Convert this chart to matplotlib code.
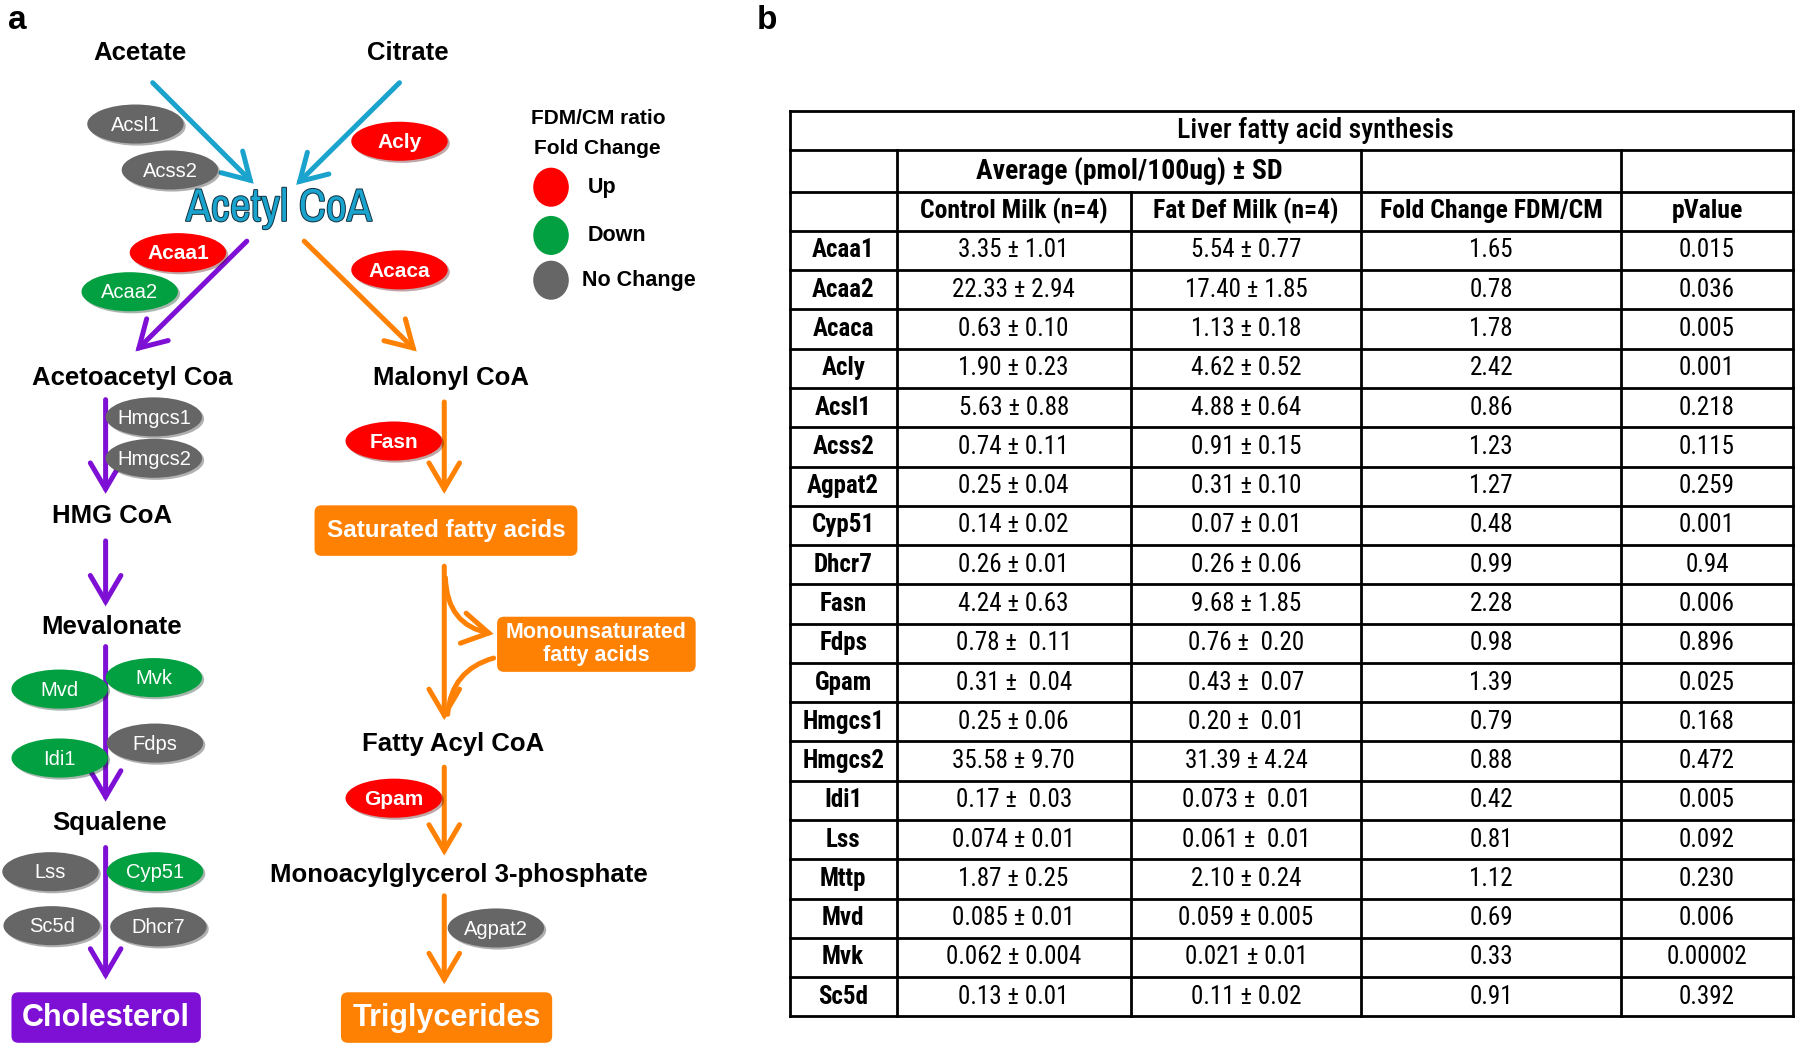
import matplotlib
matplotlib.use('Agg')
import matplotlib.pyplot as plt
import matplotlib.patheffects as pe
from matplotlib.patches import Ellipse, FancyBboxPatch, FancyArrowPatch

plt.rcParams['font.family'] = ['Liberation Sans', 'DejaVu Sans']
NARROW = ['Roboto Condensed', 'Liberation Sans', 'DejaVu Sans']
ACETYL_FONT = ['Archivo Narrow', 'Roboto Condensed', 'DejaVu Sans']

# ---- table data (panel b) ----
genes = ['Acaa1', 'Acaa2', 'Acaca', 'Acly', 'Acsl1', 'Acss2', 'Agpat2', 'Cyp51', 'Dhcr7', 'Fasn',
         'Fdps', 'Gpam', 'Hmgcs1', 'Hmgcs2', 'Idi1', 'Lss', 'Mttp', 'Mvd', 'Mvk', 'Sc5d']
control_milk = ['3.35 ± 1.01', '22.33 ± 2.94', '0.63 ± 0.10', '1.90 ± 0.23', '5.63 ± 0.88',
                '0.74 ± 0.11', '0.25 ± 0.04', '0.14 ± 0.02', '0.26 ± 0.01', '4.24 ± 0.63',
                '0.78 ±  0.11', '0.31 ±  0.04', '0.25 ± 0.06', '35.58 ± 9.70', '0.17 ±  0.03',
                '0.074 ± 0.01', '1.87 ± 0.25', '0.085 ± 0.01', '0.062 ± 0.004', '0.13 ± 0.01']
fat_def_milk = ['5.54 ± 0.77', '17.40 ± 1.85', '1.13 ± 0.18', '4.62 ± 0.52', '4.88 ± 0.64',
                '0.91 ± 0.15', '0.31 ± 0.10', '0.07 ± 0.01', '0.26 ± 0.06', '9.68 ± 1.85',
                '0.76 ±  0.20', '0.43 ±  0.07', '0.20 ±  0.01', '31.39 ± 4.24', '0.073 ±  0.01',
                '0.061 ±  0.01', '2.10 ± 0.24', '0.059 ± 0.005', '0.021 ± 0.01', '0.11 ± 0.02']
fold_change = [1.65, 0.78, 1.78, 2.42, 0.86, 1.23, 1.27, 0.48, 0.99, 2.28,
               0.98, 1.39, 0.79, 0.88, 0.42, 0.81, 1.12, 0.69, 0.33, 0.91]
p_values = ['0.015', '0.036', '0.005', '0.001', '0.218', '0.115', '0.259', '0.001', '0.94', '0.006',
            '0.896', '0.025', '0.168', '0.472', '0.005', '0.092', '0.230', '0.006', '0.00002', '0.392']
col_headers = ['', 'Control Milk (n=4)', 'Fat Def Milk (n=4)', 'Fold Change FDM/CM', 'pValue']

# ---- pathway (panel a) ----
metabolites = ['Acetate', 'Citrate', 'Acetoacetyl Coa', 'Malonyl CoA', 'HMG CoA', 'Mevalonate',
               'Fatty Acyl CoA', 'Squalene', 'Monoacylglycerol 3-phosphate']
diagram_enzymes = ['Acsl1', 'Acss2', 'Acly', 'Acaa1', 'Acaa2', 'Acaca', 'Hmgcs1', 'Hmgcs2', 'Fasn',
                   'Mvd', 'Mvk', 'Idi1', 'Fdps', 'Lss', 'Cyp51', 'Sc5d', 'Dhcr7', 'Gpam', 'Agpat2']

# layout (canvas units, 1568 x 916)
metab_pos = {'Acetate': (122, 46), 'Citrate': (355, 46), 'Acetoacetyl Coa': (115, 329),
             'Malonyl CoA': (393, 329), 'HMG CoA': (98, 449), 'Mevalonate': (97, 546),
             'Fatty Acyl CoA': (395, 648), 'Squalene': (95, 717),
             'Monoacylglycerol 3-phosphate': (400, 762)}
enz_pos = {'Acsl1': (118, 108), 'Acss2': (148, 148), 'Acly': (348, 123), 'Acaa1': (155, 220),
           'Acaa2': (113, 254), 'Acaca': (348, 235), 'Hmgcs1': (134, 363), 'Hmgcs2': (134, 399),
           'Fasn': (343, 384), 'Mvd': (52, 600), 'Mvk': (134, 590), 'Idi1': (52, 660),
           'Fdps': (135, 647), 'Lss': (44, 759), 'Cyp51': (135, 759), 'Sc5d': (45, 806),
           'Dhcr7': (138, 807), 'Gpam': (343, 695), 'Agpat2': (432, 808)}

RED, GREEN, GRAY = '#fe0000', '#02a040', '#666666'
BLUE, PURPLE, ORANGE = '#1aa3cc', '#7e0fd4', '#ff8104'


def status_color(g):
    i = genes.index(g)
    if float(p_values[i]) < 0.05:
        return RED if fold_change[i] > 1 else GREEN
    return GRAY


fig = plt.figure(figsize=(18, 10.52), dpi=100)
ax = fig.add_axes([0, 0, 1, 1])
ax.set_xlim(0, 1568)
ax.set_ylim(916, 0)
ax.axis('off')

ax.text(15, 18, 'a', fontsize=24, fontweight='bold', ha='center', va='center')
ax.text(668, 18, 'b', fontsize=24, fontweight='bold', ha='center', va='center')


def arrow(p0, p1, color, head=True, rad=0.0):
    style = '->,head_length=0.85,head_width=0.5' if head else '-'
    a = FancyArrowPatch(p0, p1, arrowstyle=style, mutation_scale=22, lw=3.6, color=color,
                        shrinkA=0, shrinkB=0, connectionstyle=f'arc3,rad={rad}',
                        capstyle='round', joinstyle='miter')
    ax.add_patch(a)


# arrows
arrow((133, 72), (221, 160), BLUE)
arrow((348, 72), (258, 161), BLUE)
arrow((215, 210), (118, 306), PURPLE)
arrow((265, 210), (363, 306), ORANGE)
for y0, y1 in [(348, 430), (471, 528), (563, 698), (738, 853)]:
    arrow((92, y0), (92, y1), PURPLE)
for y0, y1 in [(350, 430), (493, 627), (668, 745), (780, 857)]:
    arrow((387, y0), (387, y1), ORANGE)
arrow((388, 503), (430, 552), ORANGE, rad=0.4)
arrow((430, 573), (390, 622), ORANGE, head=False, rad=0.35)

# metabolites
for m in metabolites:
    x, y = metab_pos[m]
    ax.text(x, y, m, fontsize=18.5, fontweight='bold', ha='center', va='center')

ax.text(243, 181, 'Acetyl CoA', fontsize=33, family=ACETYL_FONT, color=BLUE, ha='center', va='center',
        path_effects=[pe.Stroke(linewidth=1.4, foreground='#12303e'), pe.Normal()])

# boxes
boxes = [('Saturated fatty acids', (274, 440, 229, 44), ORANGE, 17.5),
         ('Monounsaturated\nfatty acids', (433, 537, 173, 48), ORANGE, 15.5),
         ('Cholesterol', (10, 864, 165, 44), PURPLE, 22),
         ('Triglycerides', (297, 864, 184, 44), ORANGE, 22)]
for label, (x, y, w, h), c, fs in boxes:
    ax.add_patch(FancyBboxPatch((x + 6, y + 6), w - 12, h - 12, boxstyle='round,pad=6',
                                fc=c, ec='none'))
    ax.text(x + w / 2, y + h / 2, label, fontsize=fs, fontweight='bold', color='white',
            ha='center', va='center', linespacing=1.1)

# enzymes
for e in diagram_enzymes:
    x, y = enz_pos[e]
    c = status_color(e)
    ax.add_patch(Ellipse((x, y), 84, 34, fc=c, ec='none',
                         path_effects=[pe.SimplePatchShadow(offset=(1.5, -1.5), alpha=0.35), pe.Normal()]))
    bold = c == RED
    ax.text(x, y + 1, e, fontsize=15 if bold else 14.5, fontweight='bold' if bold else 'normal',
            color='white', ha='center', va='center')

# legend
ax.text(521, 103, 'FDM/CM ratio', fontsize=15, fontweight='bold', ha='center', va='center')
ax.text(520, 129, 'Fold Change', fontsize=15, fontweight='bold', ha='center', va='center')
for (lab, c, y) in [('Up', RED, 163), ('Down', GREEN, 205), ('No Change', GRAY, 244)]:
    ax.add_patch(Ellipse((480, y), 31, 34, fc=c, ec='none'))
    ax.text(507 if lab == 'No Change' else 512, y, lab, fontsize=15.5, fontweight='bold',
            ha='left', va='center')

# ---- table ----
col_x = [688, 781, 985, 1186, 1412, 1562]
top, r1, r2, r3 = 97, 131, 167, 201
row_h = (885 - r3) / len(genes)
bottom = r3 + row_h * len(genes)
lw = 2.0
ax.plot([col_x[0], col_x[-1]], [top, top], color='black', lw=lw)
for y in [r1, r2] + [r3 + i * row_h for i in range(len(genes) + 1)]:
    ax.plot([col_x[0], col_x[-1]], [y, y], color='black', lw=lw)
ax.plot([col_x[0]] * 2, [top, bottom], color='black', lw=lw)
ax.plot([col_x[-1]] * 2, [top, bottom], color='black', lw=lw)
for x in [col_x[1], col_x[3], col_x[4]]:
    ax.plot([x, x], [r1, bottom], color='black', lw=lw)
ax.plot([col_x[2]] * 2, [r2, bottom], color='black', lw=lw)

ax.text(1146, (top + r1) / 2, 'Liver fatty acid synthesis', fontsize=20,
        family=NARROW, fontweight='medium', ha='center', va='center')
ax.text((col_x[1] + col_x[3]) / 2, (r1 + r2) / 2, 'Average (pmol/100ug) ± SD', fontsize=20,
        family=NARROW, fontweight='bold', ha='center', va='center')
for j, h in enumerate(col_headers):
    ax.text((col_x[j] + col_x[j + 1]) / 2, (r2 + r3) / 2, h, fontsize=18.5, family=NARROW,
            fontweight='bold', ha='center', va='center')

for i, g in enumerate(genes):
    yc = r3 + (i + 0.5) * row_h
    vals = [g, control_milk[i], fat_def_milk[i], f'{fold_change[i]:.2f}', p_values[i]]
    for j, v in enumerate(vals):
        ax.text((col_x[j] + col_x[j + 1]) / 2, yc, v, fontsize=18, family=NARROW,
                fontweight='bold' if j == 0 else 'normal', ha='center', va='center')

fig.savefig('out.png', dpi=100)
